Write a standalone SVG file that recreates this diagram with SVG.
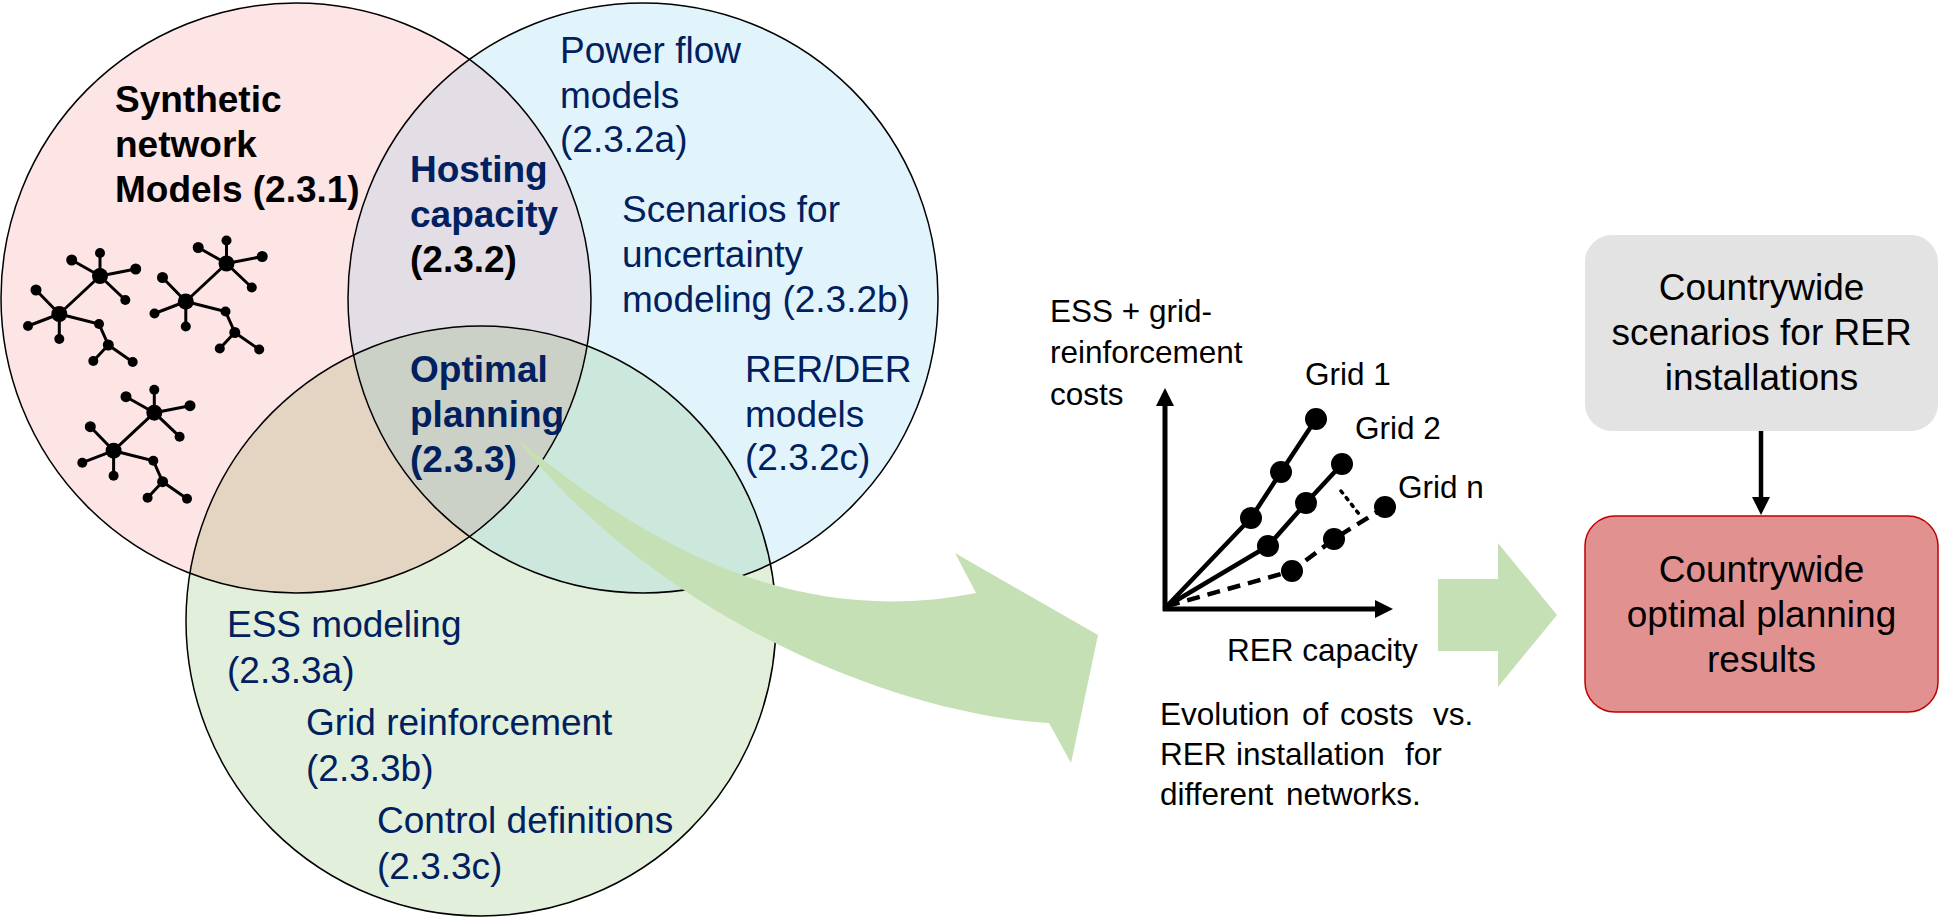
<svg xmlns="http://www.w3.org/2000/svg" xmlns:xlink="http://www.w3.org/1999/xlink" width="1949" height="920" viewBox="0 0 1949 920">
<style>
.t{font-family:"Liberation Sans",Arial,sans-serif}
.v{font-size:37px;fill:#002060}
.vb{font-size:37px;font-weight:bold;fill:#000}
.nb{font-size:37px;font-weight:bold;fill:#002060}
.c{font-size:31.5px;fill:#000}
.bx{font-size:37px;fill:#000;text-anchor:middle}
.ol{fill:none;stroke:#000;stroke-width:1.5}
.nl{stroke:#000;stroke-width:3;fill:none}
.ax{stroke:#000;stroke-width:5;fill:none}
.gl{stroke:#000;stroke-width:4.5;fill:none;stroke-linejoin:round}
.dot{fill:#000}
.garrow{fill:#C5E0B4}
</style>
<defs>
<clipPath id="cp"><circle cx="296" cy="298" r="295"/></clipPath>
<clipPath id="cb"><circle cx="643" cy="298" r="295"/></clipPath>
<clipPath id="cg"><circle cx="481" cy="621" r="295"/></clipPath>
<g id="net">
<path class="nl" d="M0,0 L-40.7,38 M0,0 L-28.3,-16 M0,0 L0,-23 M0,0 L35.7,-7 M0,0 L25.3,24 M-40.7,38 L-64,14 M-40.7,38 L-72,50 M-40.7,38 L-40.7,63 M-40.7,38 L-1,48 L8.3,69 L-6.7,85 M8.3,69 L32.7,86"/>
<circle class="dot" cx="0" cy="0" r="8"/>
<circle class="dot" cx="-40.7" cy="38" r="8"/>
<circle class="dot" cx="-28.3" cy="-16" r="5.5"/>
<circle class="dot" cx="0" cy="-23" r="5"/>
<circle class="dot" cx="35.7" cy="-7" r="5.5"/>
<circle class="dot" cx="25.3" cy="24" r="5"/>
<circle class="dot" cx="-64" cy="14" r="5.5"/>
<circle class="dot" cx="-72" cy="50" r="5"/>
<circle class="dot" cx="-40.7" cy="63" r="5"/>
<circle class="dot" cx="-1" cy="48" r="5"/>
<circle class="dot" cx="8.3" cy="69" r="5.5"/>
<circle class="dot" cx="-6.7" cy="85" r="5"/>
<circle class="dot" cx="32.7" cy="86" r="5"/>
</g>
</defs>
<rect width="1949" height="920" fill="#fff"/>

<g id="venn">
<circle cx="296" cy="298" r="295" fill="#FDE4E5"/>
<circle cx="643" cy="298" r="295" fill="#E2F4FB"/>
<circle cx="481" cy="621" r="295" fill="#E2EFDA"/>
<circle cx="643" cy="298" r="295" fill="#E3DEE5" clip-path="url(#cp)"/>
<circle cx="481" cy="621" r="295" fill="#E3D5C2" clip-path="url(#cp)"/>
<circle cx="481" cy="621" r="295" fill="#CCE8DD" clip-path="url(#cb)"/>
<g clip-path="url(#cb)"><circle cx="481" cy="621" r="295" fill="#CBD1C6" clip-path="url(#cp)"/></g>
<circle class="ol" cx="296" cy="298" r="295"/>
<circle class="ol" cx="643" cy="298" r="295"/>
<circle class="ol" cx="481" cy="621" r="295"/>
</g>

<g id="connectors">
<path id="curved-arrow" class="garrow" d="M515,437 C640,540 790,630 976,593 L955,553 L1098,635 L1071,763 L1049,723 C900,715 660,620 515,437 Z"/>
<path id="block-arrow" class="garrow" d="M1438,579 H1498 V543 L1557,615 L1498,687 V651 H1438 Z"/>
<g id="down-arrow">
<line x1="1761" y1="431" x2="1761" y2="500" stroke="#000" stroke-width="4.5"/>
<path d="M1752,497 L1770,497 L1761,515 Z" fill="#000"/>
</g>
</g>

<g id="networks">
<use xlink:href="#net" href="#net" x="100" y="276"/>
<use xlink:href="#net" href="#net" x="226.5" y="263.5"/>
<use xlink:href="#net" href="#net" x="154.3" y="412.7"/>
</g>

<g id="synthetic-models" class="t vb">
<text x="115" y="112">Synthetic</text>
<text x="115" y="157">network</text>
<text x="115" y="202">Models (2.3.1)</text>
</g>
<g id="hosting-capacity" class="t">
<text class="nb" x="410" y="182">Hosting</text>
<text class="nb" x="410" y="227">capacity</text>
<text class="vb" x="410" y="272">(2.3.2)</text>
</g>
<g id="optimal-planning" class="t nb">
<text x="410" y="382">Optimal</text>
<text x="410" y="427">planning</text>
<text x="410" y="472">(2.3.3)</text>
</g>
<g id="power-flow" class="t v">
<text x="560" y="63">Power flow</text>
<text x="560" y="108">models</text>
<text x="560" y="152">(2.3.2a)</text>
</g>
<g id="scenarios" class="t v">
<text x="622" y="222">Scenarios for</text>
<text x="622" y="267">uncertainty</text>
<text x="622" y="312">modeling (2.3.2b)</text>
</g>
<g id="rer-der" class="t v">
<text x="745" y="382">RER/DER</text>
<text x="745" y="427">models</text>
<text x="745" y="470">(2.3.2c)</text>
</g>
<g id="ess" class="t v">
<text x="227" y="637">ESS modeling</text>
<text x="227" y="683">(2.3.3a)</text>
</g>
<g id="grid-reinf" class="t v">
<text x="306" y="735">Grid reinforcement</text>
<text x="306" y="781">(2.3.3b)</text>
</g>
<g id="control" class="t v">
<text x="377" y="833">Control definitions</text>
<text x="377" y="879">(2.3.3c)</text>
</g>

<g id="chart">
<line class="ax" x1="1165" y1="611" x2="1165" y2="402"/>
<path d="M1156,406 L1174,406 L1165,388 Z" fill="#000"/>
<line class="ax" x1="1163" y1="609" x2="1378" y2="609"/>
<path d="M1375,600 L1375,618 L1393,609 Z" fill="#000"/>
<polyline class="gl" points="1167,606 1251,518 1281,472 1316,419"/>
<polyline class="gl" points="1167,606 1268,546 1306,503 1342,464"/>
<polyline class="gl" stroke-dasharray="13,8" points="1167,606 1292,571 1334,539 1385,507"/>
<line x1="1341" y1="491" x2="1359" y2="514" stroke="#000" stroke-width="3.5" stroke-dasharray="2.5,6" stroke-linecap="round"/>
<circle class="dot" cx="1316" cy="419" r="11"/>
<circle class="dot" cx="1281" cy="472" r="11"/>
<circle class="dot" cx="1251" cy="518" r="11"/>
<circle class="dot" cx="1342" cy="464" r="11"/>
<circle class="dot" cx="1306" cy="503" r="11"/>
<circle class="dot" cx="1268" cy="546" r="11"/>
<circle class="dot" cx="1385" cy="507" r="11"/>
<circle class="dot" cx="1334" cy="539" r="11"/>
<circle class="dot" cx="1292" cy="571" r="11"/>
<g class="t c">
<text x="1050" y="322">ESS + grid-</text>
<text x="1050" y="363">reinforcement</text>
<text x="1050" y="405">costs</text>
<text x="1305" y="385">Grid 1</text>
<text x="1355" y="439">Grid 2</text>
<text x="1398" y="498">Grid n</text>
<text x="1227" y="661">RER capacity</text>
<text y="725"><tspan x="1160">Evolution</tspan><tspan x="1302">of</tspan><tspan x="1340">costs</tspan><tspan x="1433">vs.</tspan></text>
<text y="765"><tspan x="1160">RER</tspan><tspan x="1236">installation</tspan><tspan x="1405">for</tspan></text>
<text y="805"><tspan x="1160">different</tspan><tspan x="1286">networks.</tspan></text>
</g>
</g>

<g id="scenarios-box">
<rect x="1585" y="235" width="353" height="196" rx="27" fill="#E3E3E3"/>
<g class="t bx">
<text x="1761.5" y="300">Countrywide</text>
<text x="1761.5" y="345">scenarios for RER</text>
<text x="1761.5" y="390">installations</text>
</g>
</g>
<g id="results-box">
<rect x="1585" y="516" width="353" height="196" rx="30" fill="#E29191" stroke="#C00000" stroke-width="1.5"/>
<g class="t bx">
<text x="1761.5" y="582">Countrywide</text>
<text x="1761.5" y="627">optimal planning</text>
<text x="1761.5" y="672">results</text>
</g>
</g>
</svg>
